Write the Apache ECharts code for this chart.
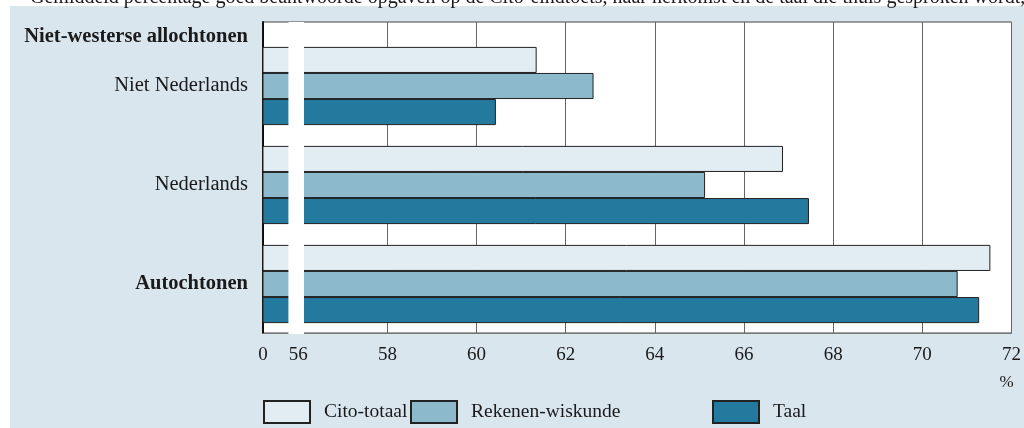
<!DOCTYPE html>
<html>
<head>
<meta charset="utf-8">
<script src="https://cdn.jsdelivr.net/npm/echarts@6/dist/echarts.min.js"></script>
<style>
html,body{margin:0;padding:0;background:#fff;}
#chart{width:1024px;height:428px;}
</style>
</head>
<body>
<div id="chart"></div>
<script>
// ---- data ----
const titleText = 'Gemiddeld percentage goed beantwoorde opgaven op de Cito-eindtoets, naar herkomst en de taal die thuis gesproken wordt, toets 2008';
const groupHeader = 'Niet-westerse allochtonen';
const categories = ['Niet Nederlands', 'Nederlands', 'Autochtonen'];
const boldCategories = ['Autochtonen'];
const seriesNames = ['Cito-totaal', 'Rekenen-wiskunde', 'Taal'];
const citoTotaal = [61.32, 66.82, 71.45];
const rekenenWiskunde = [62.59, 65.08, 70.72];
const taal = [60.41, 67.40, 71.20];
const axisStart = 55.21;          // broken axis start, labelled "0"
const axisEnd = 72;
const tickValues = [axisStart, 56, 58, 60, 62, 64, 66, 68, 70, 72];
const tickLabels = ['0', '56', '58', '60', '62', '64', '66', '68', '70', '72'];
const gridValues = [58, 60, 62, 64, 66, 68, 70, 72];
const breakRange = [55.78, 56.13];
const unitLabel = '%';

const colors = ['#e1ecf3', '#8cb9cc', '#24799e'];
const FONT = 'Liberation Serif';

const chart = echarts.init(document.getElementById('chart'), null, {renderer: 'canvas'});

const seriesData = [citoTotaal, rekenenWiskunde, taal];
const option = {
  animation: false,
  backgroundColor: '#ffffff',
  textStyle: {fontFamily: FONT},
  grid: [
    {left: 263, right: 9, top: 22, bottom: 95, show: true, backgroundColor: '#ffffff', borderColor: '#444', borderWidth: 1, containLabel: false},
    {left: 263, right: 9, top: 36.5, bottom: 94.5, containLabel: false}
  ],
  xAxis: [
    {
      gridIndex: 0, type: 'value', min: axisStart, max: axisEnd,
      axisLine: {show: true, lineStyle: {color: '#777', width: 1}},
      axisTick: {show: false, customValues: gridValues},
      splitLine: {show: true, lineStyle: {color: '#666', width: 1}},
      axisLabel: {
        customValues: tickValues, margin: 13, color: '#1a1a1a', fontSize: 19, fontFamily: FONT,
        formatter: function (v) {
          const i = tickValues.findIndex(t => Math.abs(t - v) < 1e-6);
          return i >= 0 ? tickLabels[i] : '';
        }
      }
    },
    {gridIndex: 1, type: 'value', min: axisStart, max: axisEnd, show: false, splitLine: {show: false}}
  ],
  yAxis: [
    {gridIndex: 0, type: 'category', data: [''], axisLabel: {show: false}, axisTick: {show: false},
     axisLine: {show: true, lineStyle: {color: '#111', width: 2}}},
    {
      gridIndex: 1, type: 'category', data: categories, inverse: true,
      axisLine: {show: false}, axisTick: {show: false},
      axisLabel: {
        margin: 15, fontSize: 20.5, color: '#1a1a1a', fontFamily: FONT,
        formatter: function (v) { return boldCategories.indexOf(v) >= 0 ? '{b|' + v + '}' : v; },
        rich: {b: {fontWeight: 'bold', fontSize: 20.5, fontFamily: FONT, color: '#1a1a1a'}}
      }
    }
  ],
  legend: [0, 1, 2].map(function (i) {
    const lefts = [263, 410, 712];
    return {
      data: [seriesNames[i]], left: lefts[i], top: 400, padding: 0, itemWidth: 46, itemHeight: 22,
      icon: 'rect', selectedMode: false,
      textStyle: {fontSize: 19.5, color: '#1a1a1a', fontFamily: FONT, padding: [0, 0, 0, 9]}
    };
  }),
  series: seriesData.map(function (d, i) {
    return {
      name: seriesNames[i], type: 'bar', xAxisIndex: 1, yAxisIndex: 1, data: d,
      barGap: '0%', barCategoryGap: '21%',
      itemStyle: {color: colors[i], borderColor: '#222', borderWidth: 1}
    };
  })
};
chart.setOption(option);

// decorations computed through the axis scale
const bx0 = chart.convertToPixel({xAxisIndex: 0}, breakRange[0]);
const bx1 = chart.convertToPixel({xAxisIndex: 0}, breakRange[1]);
const xEnd = chart.convertToPixel({xAxisIndex: 0}, axisEnd);
chart.setOption({
  graphic: [
    {type: 'rect', z: -100, silent: true, shape: {x: 10, y: 6, width: 1014, height: 422}, style: {fill: '#d9e6ee'}},
    {type: 'rect', z: 100, silent: true, shape: {x: bx0, y: 22, width: bx1 - bx0, height: 312}, style: {fill: '#ffffff'}},
    {type: 'text', z: 100, silent: true, x: 248, y: 37, style: {text: groupHeader, align: 'right', verticalAlign: 'middle', fontFamily: FONT, fontSize: 20.5, fontWeight: 'bold', fill: '#1a1a1a'}},
    {type: 'text', z: 100, silent: true, x: xEnd - 5, y: 383, style: {text: unitLabel, align: 'center', verticalAlign: 'middle', fontFamily: FONT, fontSize: 17, fill: '#1a1a1a'}},
    {type: 'text', z: 100, silent: true, x: 30, y: 8, style: {text: titleText, align: 'left', verticalAlign: 'bottom', fontFamily: FONT, fontSize: 20, fill: '#1a1a1a'}}
  ]
});
</script>
</body>
</html>
